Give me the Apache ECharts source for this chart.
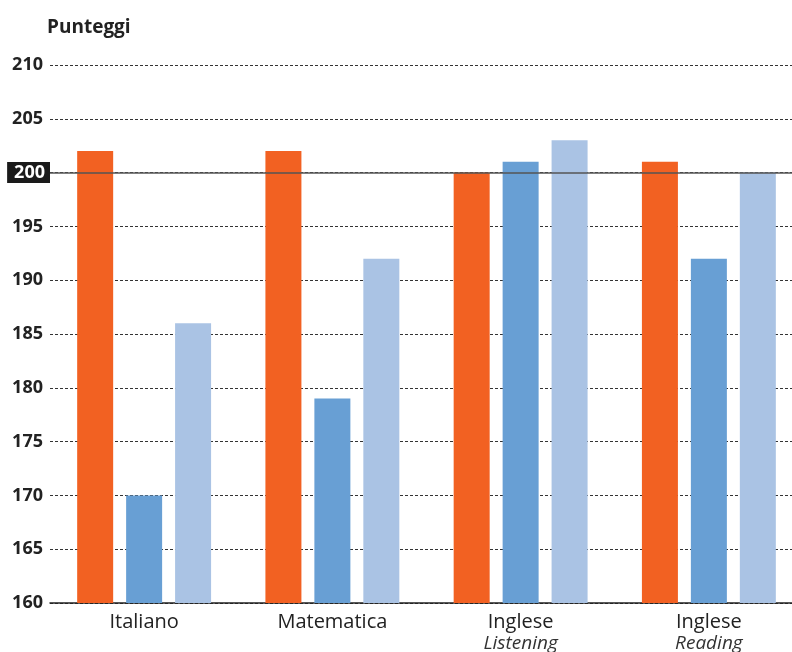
<!DOCTYPE html>
<html><head><meta charset="utf-8">
<script src="https://cdn.jsdelivr.net/npm/echarts@6/dist/echarts.min.js"></script>
<style>html,body{margin:0;padding:0;background:#fff}#c{width:792px;height:652px}</style>
</head><body><div id="c"></div>
<script>
const categories = ['Italiano', 'Matematica', 'Inglese|Listening', 'Inglese|Reading'];
const seriesA = [202, 202, 200, 201];
const seriesB = [170, 179, 201, 192];
const seriesC = [186, 192, 203, 200];
const yTicks = [160, 165, 170, 175, 180, 185, 190, 195, 200, 205, 210];
const refValue = 200;
const colors = ['#F26122', '#689FD4', '#AAC3E4'];

const chart = echarts.init(document.getElementById('c'), null, {renderer: 'canvas'});
const font = '"Open Sans", "Noto Sans", sans-serif';
chart.setOption({
  animation: false,
  textStyle: {fontFamily: font},
  title: {text: 'Punteggi', left: 42, top: 13, textStyle: {fontFamily: font, fontSize: 19, fontWeight: 'bold', color: '#222'}},
  grid: {left: 50, right: -11, top: 65, bottom: 49, containLabel: false, outerBoundsMode: 'none'},
  xAxis: {
    type: 'category', data: categories,
    axisTick: {show: false},
    axisLine: {lineStyle: {color: '#222', width: 1.5}},
    axisLabel: {
      margin: 8, color: '#222', fontSize: 20, fontFamily: font,
      formatter: v => { const p = v.split('|'); return p.length > 1 ? p[0] + '\n{it|' + p[1] + '}' : p[0]; },
      lineHeight: 22,
      rich: {it: {fontStyle: 'italic', fontSize: 19, color: '#333', lineHeight: 22, fontFamily: font}}
    }
  },
  yAxis: {
    type: 'value', min: yTicks[0], max: yTicks[yTicks.length - 1], interval: 5,
    axisLine: {show: false}, axisTick: {show: false},
    splitLine: {lineStyle: {color: '#333', type: [3, 2], width: 1}},
    axisLabel: {
      margin: 0, color: '#222', fontSize: 18, fontWeight: 'bold', fontFamily: font,
      formatter: v => v === refValue ? '{hl|' + v + '}' : '{n|' + v + '}',
      rich: {
        n: {color: '#222', fontWeight: 'bold', fontSize: 18, padding: [0, 7, 0, 0], fontFamily: font},
        hl: {backgroundColor: '#1a1a1a', color: '#fff', fontWeight: 'bold', fontSize: 18, padding: [2, 5, 1, 7], fontFamily: font}
      }
    }
  },
  series: [
    {type: 'bar', data: seriesA, barWidth: 36, barGap: '36%', itemStyle: {color: colors[0]},
     markLine: {silent: true, symbol: 'none', label: {show: false}, lineStyle: {color: '#555', type: 'solid', width: 1.5}, data: [{yAxis: refValue}]}},
    {type: 'bar', data: seriesB, barWidth: 36, barGap: '36%', itemStyle: {color: colors[1]}},
    {type: 'bar', data: seriesC, barWidth: 36, barGap: '36%', itemStyle: {color: colors[2]}}
  ]
});
</script></body></html>
